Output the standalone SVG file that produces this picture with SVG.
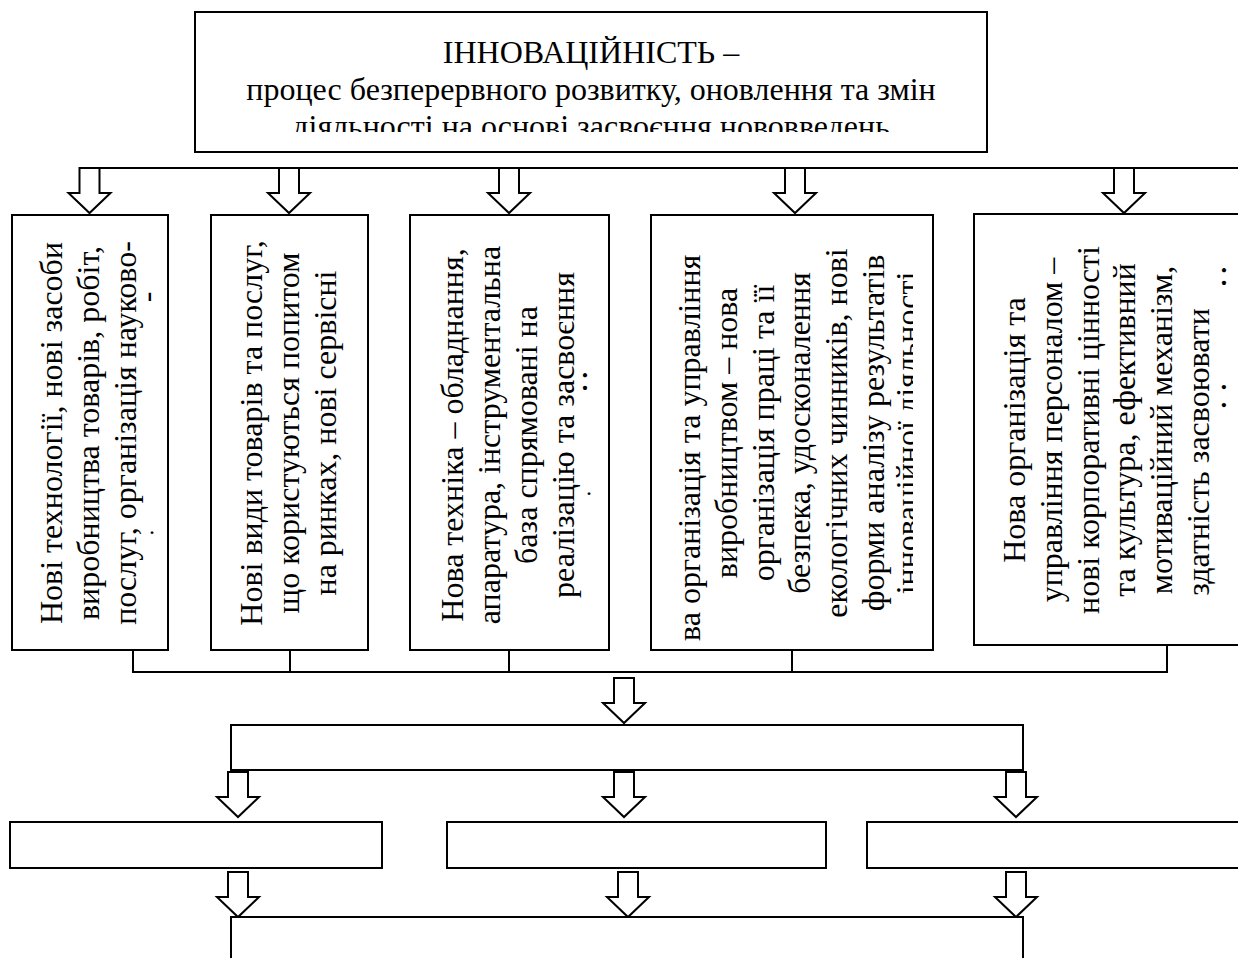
<svg xmlns="http://www.w3.org/2000/svg" width="1238" height="958" viewBox="0 0 1238 958" font-family="'Liberation Serif', 'DejaVu Serif', serif">
<style>
.box{fill:#fff;stroke:#000;stroke-width:2}
.ln{fill:none;stroke:#000;stroke-width:2}
.arr{fill:#fff;stroke:#000;stroke-width:2;stroke-linejoin:miter}
text{font-family:'Liberation Serif','DejaVu Serif',serif;font-size:32px;fill:#000}
.v{text-anchor:middle}
.frag{font-size:24px}
.c36{font-size:36px}
</style>
<defs>
<path id="ar" d="M-10,0 H10 V25 H21 L0,45 L-21,25 H-10 Z"/>
<clipPath id="cTop"><rect x="195" y="12" width="792" height="120"/></clipPath>
<clipPath id="cB4"><rect x="651" y="215" width="262" height="430"/></clipPath>
</defs>
<rect width="1238" height="958" fill="#fff"/>

<g id="connectors">
<line class="ln" x1="100" y1="168" x2="1240" y2="168"/>
<use href="#ar" class="arr" x="89.5" y="168"/>
<use href="#ar" class="arr" x="289" y="168"/>
<use href="#ar" class="arr" x="509" y="168"/>
<use href="#ar" class="arr" x="795" y="168"/>
<use href="#ar" class="arr" x="1124" y="168"/>
<polyline class="ln" points="133,650 133,672 1167,672 1167,645"/>
<line class="ln" x1="290" y1="650" x2="290" y2="672"/>
<line class="ln" x1="509" y1="650" x2="509" y2="672"/>
<line class="ln" x1="792" y1="650" x2="792" y2="672"/>
<use href="#ar" class="arr" x="624" y="678"/>
<use href="#ar" class="arr" x="238" y="772"/>
<use href="#ar" class="arr" x="624" y="772"/>
<use href="#ar" class="arr" x="1016" y="772"/>
<use href="#ar" class="arr" x="238" y="872"/>
<use href="#ar" class="arr" x="628" y="872"/>
<use href="#ar" class="arr" x="1016" y="872"/>
</g>

<g id="n-top">
<rect class="box" x="195" y="12" width="792" height="140"/>
<text x="591" y="63" text-anchor="middle">ІННОВАЦІЙНІСТЬ –</text>
<text x="591" y="100" text-anchor="middle">процес безперервного розвитку, оновлення та змін</text>
<text x="591" y="137" text-anchor="middle" clip-path="url(#cTop)">діяльності на основі засвоєння нововведень</text>
</g>

<g id="n-1">
<rect class="box" x="12" y="215" width="156" height="435"/>
<text class="v" transform="translate(62,433) rotate(-90)">Нові технології, нові засоби</text>
<text class="v" transform="translate(99,433) rotate(-90)">виробництва товарів, робіт,</text>
<text class="v" transform="translate(136,433) rotate(-90)">послуг, організація науково-</text>
<text transform="translate(157,297) rotate(-90)" text-anchor="middle">-</text>
<text class="frag" x="149" y="534">.</text>
</g>

<g id="n-2">
<rect class="box" x="211" y="215" width="157" height="435"/>
<text class="v" transform="translate(262,433) rotate(-90)">Нові види товарів та послуг,</text>
<text class="v" transform="translate(299,433) rotate(-90)">що користуються попитом</text>
<text class="v" transform="translate(336,433) rotate(-90)">на ринках, нові сервісні</text>
</g>

<g id="n-3">
<rect class="box" x="410" y="215" width="199" height="435"/>
<text class="v" transform="translate(463,435) rotate(-90)">Нова техніка – обладнання,</text>
<text class="v" transform="translate(500,435) rotate(-90)">апаратура, інструментальна</text>
<text class="v" transform="translate(537,435) rotate(-90)">база спрямовані на</text>
<text class="v" transform="translate(574,435) rotate(-90)">реалізацію та засвоєння</text>
<text class="c36" x="580" y="390">:</text>
<text class="frag" x="586" y="495">.</text>
</g>

<g id="n-4">
<rect class="box" x="651" y="215" width="282" height="435"/>
<text transform="translate(700,641) rotate(-90)">ва організація та управління</text>
<text class="v" transform="translate(736.8,433) rotate(-90)">виробництвом – нова</text>
<text class="v" transform="translate(773.6,433) rotate(-90)">організація праці та її</text>
<text class="v" transform="translate(810.4,433) rotate(-90)">безпека, удосконалення</text>
<text class="v" transform="translate(847.2,433) rotate(-90)">екологічних чинників, нові</text>
<text class="v" transform="translate(884,433) rotate(-90)">форми аналізу результатів</text>
<g clip-path="url(#cB4)">
<text class="v" transform="translate(918,433) rotate(-90)">інноваційної діяльності</text>
</g>
</g>

<g id="n-5">
<rect class="box" x="974" y="214" width="270" height="431"/>
<text class="v" transform="translate(1025,430) rotate(-90)">Нова організація та</text>
<text class="v" transform="translate(1061.8,430) rotate(-90)">управління персоналом –</text>
<text class="v" transform="translate(1098.6,430) rotate(-90)">нові корпоративні цінності</text>
<text class="v" transform="translate(1135.4,430) rotate(-90)">та культура, ефективний</text>
<text class="v" transform="translate(1172.2,430) rotate(-90)">мотиваційний механізм,</text>
<text class="v" transform="translate(1209,452) rotate(-90)">здатність засвоювати</text>
<text class="c36" x="1219" y="285">:</text>
<text class="c36" transform="translate(1226,409.5) rotate(-90)">. .</text>
</g>

<g id="n-mid">
<rect class="box" x="231" y="725" width="792" height="45"/>
</g>
<g id="n-a">
<rect class="box" x="10" y="822" width="372" height="46"/>
</g>
<g id="n-b">
<rect class="box" x="447" y="822" width="379" height="46"/>
</g>
<g id="n-c">
<rect class="box" x="867" y="822" width="380" height="46"/>
</g>
<g id="n-bottom">
<rect class="box" x="231" y="917" width="792" height="60"/>
</g>
</svg>
